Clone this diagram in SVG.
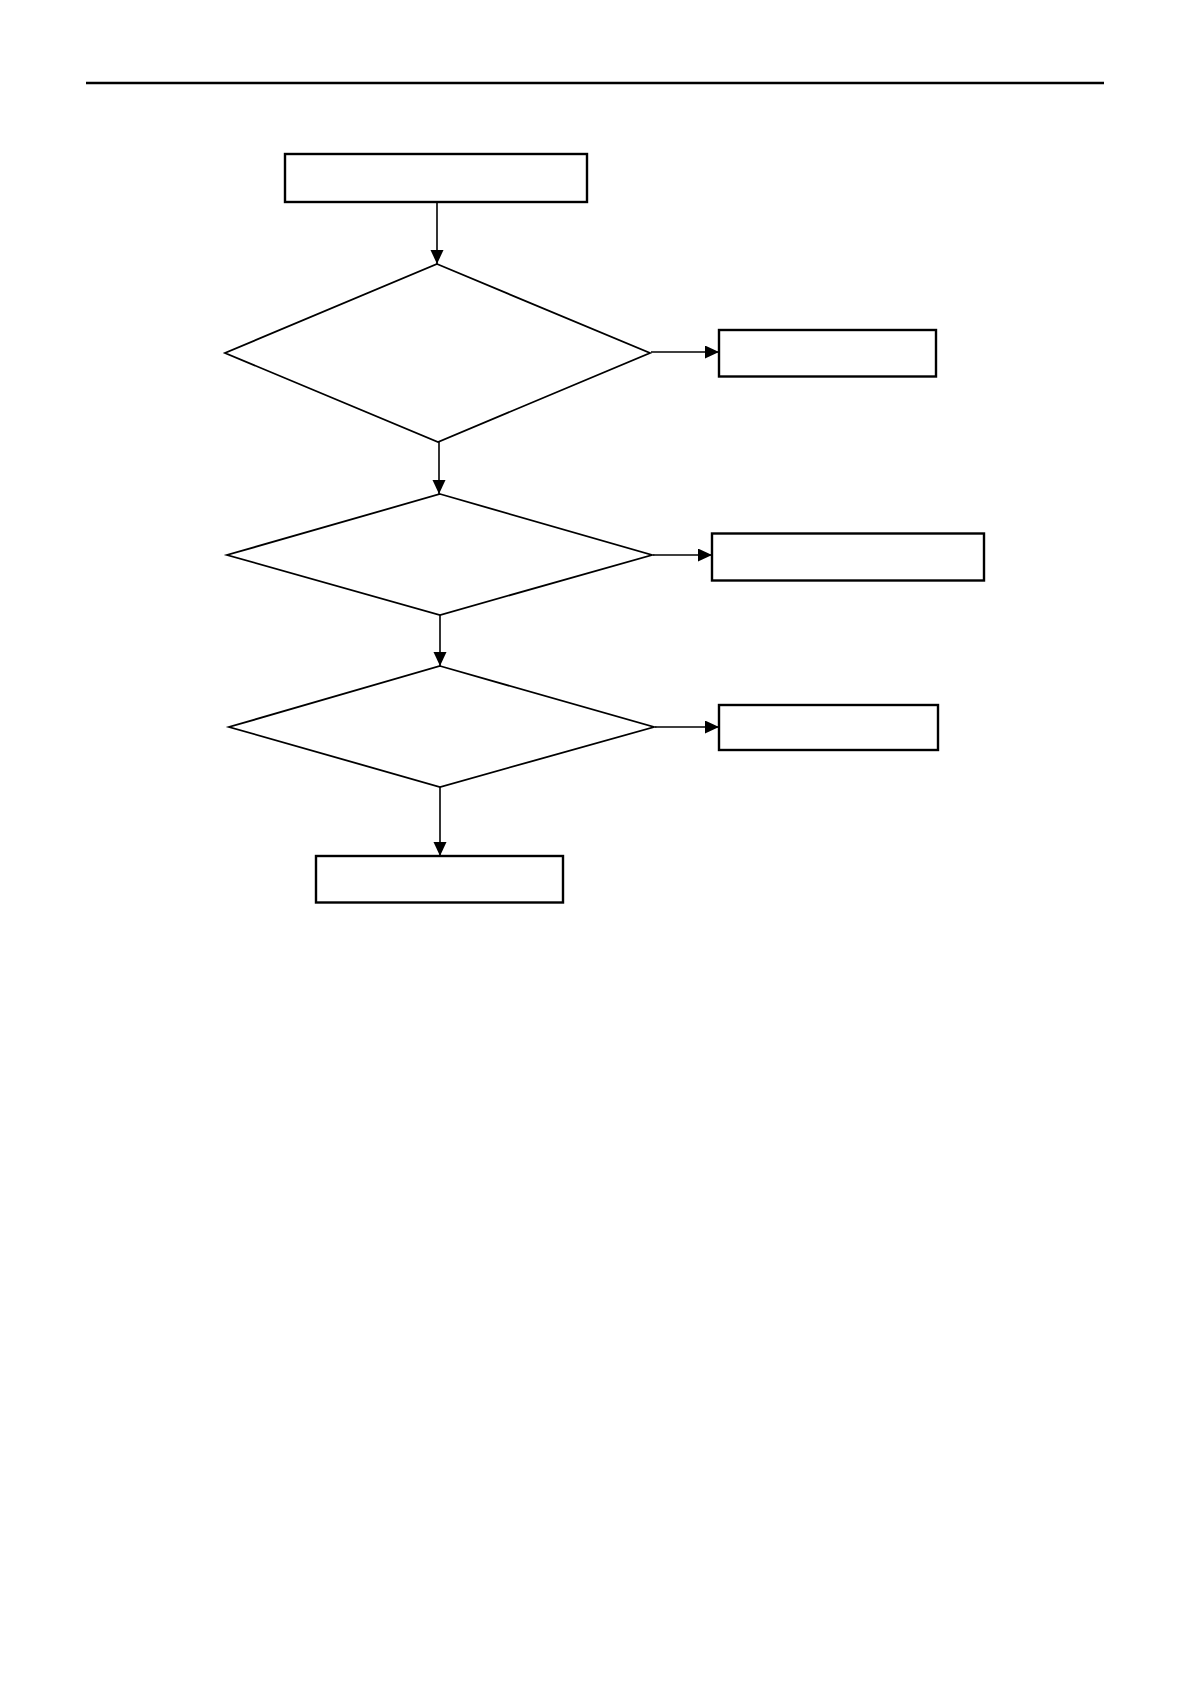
<svg xmlns="http://www.w3.org/2000/svg" width="1190" height="1684" viewBox="0 0 1190 1684">
<style>
.box{fill:#fff;stroke:#000;stroke-width:2.4}
.dia{fill:#fff;stroke:#000;stroke-width:1.8}
.edge{fill:none;stroke:#000;stroke-width:1.6}
</style>
<defs>
<marker id="ah" markerUnits="userSpaceOnUse" markerWidth="16" markerHeight="14" refX="14" refY="6.5" orient="auto">
<path d="M0,0 L14,6.5 L0,13 Z" fill="#000"/>
</marker>
</defs>
<rect width="1190" height="1684" fill="#fff"/>
<line x1="86" y1="83" x2="1104" y2="83" stroke="#000" stroke-width="2.6"/>
<g id="n1"><rect class="box" x="285" y="154" width="302" height="48"/></g>
<g id="d1"><polygon class="dia" points="437,264 650,353 438,442 225,353"/></g>
<g id="n2"><rect class="box" x="719" y="330" width="217" height="46.5"/></g>
<g id="d2"><polygon class="dia" points="440,494 652,555 440,615 227,555"/></g>
<g id="n3"><rect class="box" x="712" y="533.5" width="272" height="47"/></g>
<g id="d3"><polygon class="dia" points="440,666 654,727 440,787 229,727"/></g>
<g id="n4"><rect class="box" x="719" y="705" width="219" height="45"/></g>
<g id="n5"><rect class="box" x="316" y="856" width="247" height="46.5"/></g>
<g id="connectors">
<line class="edge" x1="437" y1="202" x2="437" y2="264" marker-end="url(#ah)"/>
<line class="edge" x1="651" y1="352" x2="719" y2="352" marker-end="url(#ah)"/>
<line class="edge" x1="439" y1="442" x2="439" y2="494" marker-end="url(#ah)"/>
<line class="edge" x1="653" y1="555" x2="712" y2="555" marker-end="url(#ah)"/>
<line class="edge" x1="440" y1="615" x2="440" y2="666" marker-end="url(#ah)"/>
<line class="edge" x1="655" y1="727" x2="719" y2="727" marker-end="url(#ah)"/>
<line class="edge" x1="440" y1="787" x2="440" y2="856" marker-end="url(#ah)"/>
</g>
</svg>
